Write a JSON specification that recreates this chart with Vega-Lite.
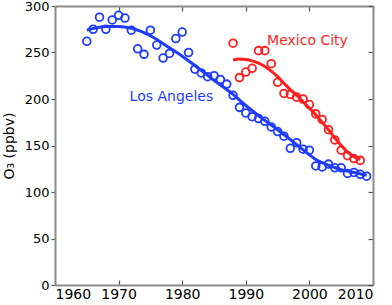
{
  "$schema": "https://vega.github.io/schema/vega-lite/v6.json",
  "width": 318,
  "height": 279,
  "autosize": "none",
  "padding": {"left": 55, "top": 6, "right": 19, "bottom": 20},
  "config": {
    "font": "DejaVu Sans",
    "view": {"stroke": null},
    "axis": {
      "grid": false,
      "domainColor": "#8c8c8c",
      "domainWidth": 2,
      "tickColor": "#555555",
      "tickWidth": 1.2,
      "tickSize": -5,
      "labelFontSize": 14,
      "labelColor": "#000000",
      "labelFont": "DejaVu Sans",
      "titleFont": "DejaVu Sans",
      "titleFontSize": 14,
      "titleFontWeight": "normal",
      "titleColor": "#000000"
    }
  },
  "resolve": {"axis": {"x": "independent", "y": "independent"}},
  "datasets": {
    "obs": [
      {"year": 1965, "o3": 262, "city": "Los Angeles"},
      {"year": 1966, "o3": 275, "city": "Los Angeles"},
      {"year": 1967, "o3": 288, "city": "Los Angeles"},
      {"year": 1968, "o3": 275, "city": "Los Angeles"},
      {"year": 1969, "o3": 285, "city": "Los Angeles"},
      {"year": 1970, "o3": 290, "city": "Los Angeles"},
      {"year": 1971, "o3": 287, "city": "Los Angeles"},
      {"year": 1972, "o3": 274, "city": "Los Angeles"},
      {"year": 1973, "o3": 254, "city": "Los Angeles"},
      {"year": 1974, "o3": 248, "city": "Los Angeles"},
      {"year": 1975, "o3": 274, "city": "Los Angeles"},
      {"year": 1976, "o3": 258, "city": "Los Angeles"},
      {"year": 1977, "o3": 244, "city": "Los Angeles"},
      {"year": 1978, "o3": 249, "city": "Los Angeles"},
      {"year": 1979, "o3": 265, "city": "Los Angeles"},
      {"year": 1980, "o3": 272, "city": "Los Angeles"},
      {"year": 1981, "o3": 250, "city": "Los Angeles"},
      {"year": 1982, "o3": 232, "city": "Los Angeles"},
      {"year": 1983, "o3": 228, "city": "Los Angeles"},
      {"year": 1984, "o3": 224, "city": "Los Angeles"},
      {"year": 1985, "o3": 225, "city": "Los Angeles"},
      {"year": 1986, "o3": 221, "city": "Los Angeles"},
      {"year": 1987, "o3": 216, "city": "Los Angeles"},
      {"year": 1988, "o3": 204, "city": "Los Angeles"},
      {"year": 1989, "o3": 191, "city": "Los Angeles"},
      {"year": 1990, "o3": 185, "city": "Los Angeles"},
      {"year": 1991, "o3": 181, "city": "Los Angeles"},
      {"year": 1992, "o3": 179, "city": "Los Angeles"},
      {"year": 1993, "o3": 176, "city": "Los Angeles"},
      {"year": 1994, "o3": 170, "city": "Los Angeles"},
      {"year": 1995, "o3": 165, "city": "Los Angeles"},
      {"year": 1996, "o3": 160, "city": "Los Angeles"},
      {"year": 1997, "o3": 147, "city": "Los Angeles"},
      {"year": 1998, "o3": 153, "city": "Los Angeles"},
      {"year": 1999, "o3": 146, "city": "Los Angeles"},
      {"year": 2000, "o3": 145, "city": "Los Angeles"},
      {"year": 2001, "o3": 128, "city": "Los Angeles"},
      {"year": 2002, "o3": 127, "city": "Los Angeles"},
      {"year": 2003, "o3": 130, "city": "Los Angeles"},
      {"year": 2004, "o3": 126, "city": "Los Angeles"},
      {"year": 2005, "o3": 126, "city": "Los Angeles"},
      {"year": 2006, "o3": 120, "city": "Los Angeles"},
      {"year": 2007, "o3": 121, "city": "Los Angeles"},
      {"year": 2008, "o3": 119, "city": "Los Angeles"},
      {"year": 2009, "o3": 117, "city": "Los Angeles"},
      {"year": 1988, "o3": 260, "city": "Mexico City"},
      {"year": 1989, "o3": 223, "city": "Mexico City"},
      {"year": 1990, "o3": 229, "city": "Mexico City"},
      {"year": 1991, "o3": 233, "city": "Mexico City"},
      {"year": 1992, "o3": 252, "city": "Mexico City"},
      {"year": 1993, "o3": 252, "city": "Mexico City"},
      {"year": 1994, "o3": 238, "city": "Mexico City"},
      {"year": 1995, "o3": 218, "city": "Mexico City"},
      {"year": 1996, "o3": 206, "city": "Mexico City"},
      {"year": 1997, "o3": 205, "city": "Mexico City"},
      {"year": 1998, "o3": 202, "city": "Mexico City"},
      {"year": 1999, "o3": 200, "city": "Mexico City"},
      {"year": 2000, "o3": 194, "city": "Mexico City"},
      {"year": 2001, "o3": 184, "city": "Mexico City"},
      {"year": 2002, "o3": 178, "city": "Mexico City"},
      {"year": 2003, "o3": 167, "city": "Mexico City"},
      {"year": 2004, "o3": 156, "city": "Mexico City"},
      {"year": 2005, "o3": 145, "city": "Mexico City"},
      {"year": 2006, "o3": 139, "city": "Mexico City"},
      {"year": 2007, "o3": 136, "city": "Mexico City"},
      {"year": 2008, "o3": 134, "city": "Mexico City"}
    ],
    "fit": [
      {"year": 1965, "o3": 274, "city": "Los Angeles"},
      {"year": 1968, "o3": 278, "city": "Los Angeles"},
      {"year": 1970, "o3": 278, "city": "Los Angeles"},
      {"year": 1972, "o3": 276, "city": "Los Angeles"},
      {"year": 1975, "o3": 268, "city": "Los Angeles"},
      {"year": 1978, "o3": 255, "city": "Los Angeles"},
      {"year": 1980, "o3": 246, "city": "Los Angeles"},
      {"year": 1982, "o3": 236, "city": "Los Angeles"},
      {"year": 1985, "o3": 220, "city": "Los Angeles"},
      {"year": 1988, "o3": 205, "city": "Los Angeles"},
      {"year": 1990, "o3": 193, "city": "Los Angeles"},
      {"year": 1993, "o3": 177, "city": "Los Angeles"},
      {"year": 1995, "o3": 167, "city": "Los Angeles"},
      {"year": 1998, "o3": 151, "city": "Los Angeles"},
      {"year": 2000, "o3": 140, "city": "Los Angeles"},
      {"year": 2001, "o3": 135, "city": "Los Angeles"},
      {"year": 2003, "o3": 129, "city": "Los Angeles"},
      {"year": 2005, "o3": 124, "city": "Los Angeles"},
      {"year": 2007, "o3": 121, "city": "Los Angeles"},
      {"year": 2009, "o3": 118, "city": "Los Angeles"},
      {"year": 1988, "o3": 242, "city": "Mexico City"},
      {"year": 1989, "o3": 243, "city": "Mexico City"},
      {"year": 1990, "o3": 242.5, "city": "Mexico City"},
      {"year": 1991, "o3": 241, "city": "Mexico City"},
      {"year": 1992, "o3": 238.5, "city": "Mexico City"},
      {"year": 1993, "o3": 235, "city": "Mexico City"},
      {"year": 1994, "o3": 230, "city": "Mexico City"},
      {"year": 1995, "o3": 224, "city": "Mexico City"},
      {"year": 1996, "o3": 217, "city": "Mexico City"},
      {"year": 1997, "o3": 210, "city": "Mexico City"},
      {"year": 1998, "o3": 204, "city": "Mexico City"},
      {"year": 1999, "o3": 197, "city": "Mexico City"},
      {"year": 2000, "o3": 190, "city": "Mexico City"},
      {"year": 2001, "o3": 183, "city": "Mexico City"},
      {"year": 2002, "o3": 175, "city": "Mexico City"},
      {"year": 2003, "o3": 167, "city": "Mexico City"},
      {"year": 2004, "o3": 158, "city": "Mexico City"},
      {"year": 2005, "o3": 150, "city": "Mexico City"},
      {"year": 2006, "o3": 143, "city": "Mexico City"},
      {"year": 2007, "o3": 138, "city": "Mexico City"},
      {"year": 2008, "o3": 135, "city": "Mexico City"}
    ],
    "labels": [
      {"year": 1978.3, "o3": 202, "city": "Los Angeles"},
      {"year": 1999.7, "o3": 262, "city": "Mexico City"}
    ]
  },
  "layer": [
    {
      "data": {"name": "fit"},
      "mark": {"type": "line", "strokeWidth": 3, "interpolate": "monotone"},
      "encoding": {
        "x": {"field": "year", "type": "quantitative", "scale": {"domain": [1960, 2010], "nice": false},
              "axis": {"orient": "bottom", "values": [1960, 1970, 1980, 1990, 2000, 2010], "format": "d", "title": null, "labelPadding": 7, "labelBaseline": "top"}},
        "y": {"field": "o3", "type": "quantitative", "scale": {"domain": [0, 300], "nice": false},
              "axis": {"orient": "left", "values": [0, 50, 100, 150, 200, 250, 300], "title": "O₃ (ppbv)", "titlePadding": 8, "labelPadding": 2, "tickSize": 4, "labelFontSize": 13}},
        "color": {"field": "city", "type": "nominal", "scale": {"domain": ["Los Angeles", "Mexico City"], "range": ["#1f3cff", "#ff1f1f"]}, "legend": null},
        "detail": {"field": "city"}
      }
    },
    {
      "data": {"name": "obs"},
      "mark": {"type": "point", "filled": false, "size": 60, "strokeWidth": 1.8, "opacity": 1},
      "encoding": {
        "x": {"field": "year", "type": "quantitative",
              "axis": {"orient": "top", "values": [1960, 1970, 1980, 1990, 2000, 2010], "labels": false, "title": null}},
        "y": {"field": "o3", "type": "quantitative",
              "axis": {"orient": "right", "values": [0, 50, 100, 150, 200, 250, 300], "labels": false, "title": null}},
        "color": {"field": "city", "type": "nominal"}
      }
    },
    {
      "data": {"name": "labels"},
      "mark": {"type": "text", "fontSize": 14, "font": "DejaVu Sans", "align": "center", "baseline": "middle"},
      "encoding": {
        "x": {"field": "year", "type": "quantitative", "axis": null},
        "y": {"field": "o3", "type": "quantitative", "axis": null},
        "text": {"field": "city"},
        "color": {"field": "city", "type": "nominal"}
      }
    }
  ]
}
